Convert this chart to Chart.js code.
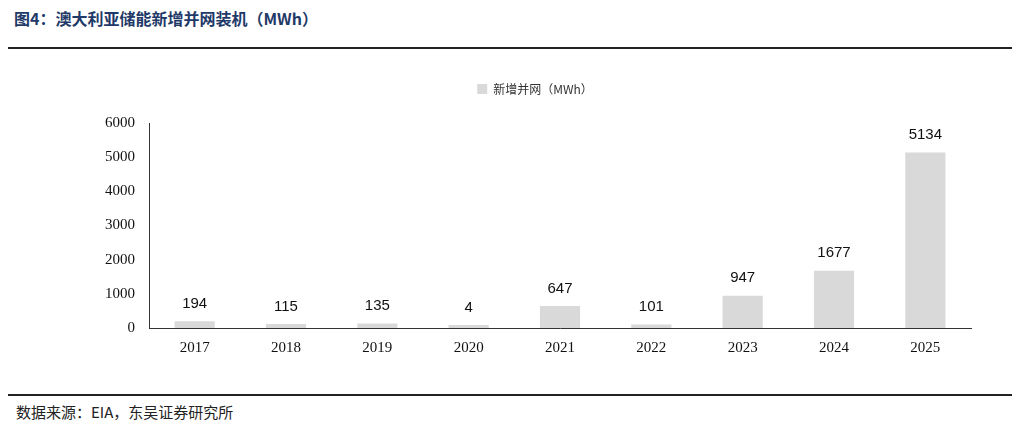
<!DOCTYPE html>
<html><head><meta charset="utf-8">
<script src="https://cdn.jsdelivr.net/npm/chart.js@4"></script>
<style>
body{margin:0;width:1020px;height:428px;background:#fff;position:relative;overflow:hidden;font-family:"Noto Sans CJK SC";}
#title{position:absolute;left:14px;top:6px;font-size:16px;font-weight:bold;color:#1f3a68;font-family:"Noto Sans CJK SC";}
#l1{position:absolute;left:8px;right:8px;top:47px;height:2px;background:#222;}
#l2{position:absolute;left:8px;right:8px;top:394px;height:2px;background:#222;}
#src{position:absolute;left:16px;top:401px;font-size:15px;color:#222;}
#wrap{position:absolute;left:0;top:53px;width:1020px;height:307px;}
</style></head><body>
<div id="title">图4：澳大利亚储能新增并网装机（MWh）</div>
<div id="l1"></div>
<div id="wrap"><canvas id="c"></canvas></div>
<div id="l2"></div>
<div id="src">数据来源：EIA，东吴证券研究所</div>
<script>
const categories=["2017","2018","2019","2020","2021","2022","2023","2024","2025"];
const values=[194,115,135,4,647,101,947,1677,5134];
const seriesName="新增并网（MWh）";
const labelPlugin={id:'lbl',afterDatasetsDraw(ch){const ctx=ch.ctx;const m=ch.getDatasetMeta(0);ctx.save();ctx.font='15px "Liberation Sans"';ctx.fillStyle='#111';ctx.textAlign='center';ctx.textBaseline='bottom';
m.data.forEach((b,i)=>{ctx.fillText(String(values[i]),b.x,Math.min(b.y,ch.scales.y.getPixelForValue(0))-10);});ctx.restore();}};
const legendGap={id:'legendGap',beforeInit(ch){const f=ch.legend.fit;ch.legend.fit=function(){f.bind(ch.legend)();this.height+=18;};}};
new Chart(document.getElementById('c'),{type:'bar',
data:{labels:categories,datasets:[{label:seriesName,data:values,backgroundColor:'#d9d9d9',barPercentage:0.44,categoryPercentage:1,minBarLength:3}]},
options:{responsive:true,maintainAspectRatio:false,animation:false,
layout:{padding:{left:99,right:49,top:8,bottom:0}},
plugins:{legend:{position:'top',labels:{boxWidth:10,boxHeight:10,font:{family:'"Noto Sans CJK SC"',size:12},color:'#333',padding:22}},tooltip:{enabled:false}},
scales:{x:{grid:{display:false},border:{color:'#333'},ticks:{color:'#111',font:{family:'"Liberation Serif"',size:15}}},
y:{min:0,max:6000,ticks:{stepSize:1000,callback:v=>String(v),color:'#111',font:{family:'"Liberation Serif"',size:15},padding:6},grid:{display:false,drawTicks:true},border:{color:'#333'}}}},
plugins:[labelPlugin,legendGap]});
</script></body></html>
